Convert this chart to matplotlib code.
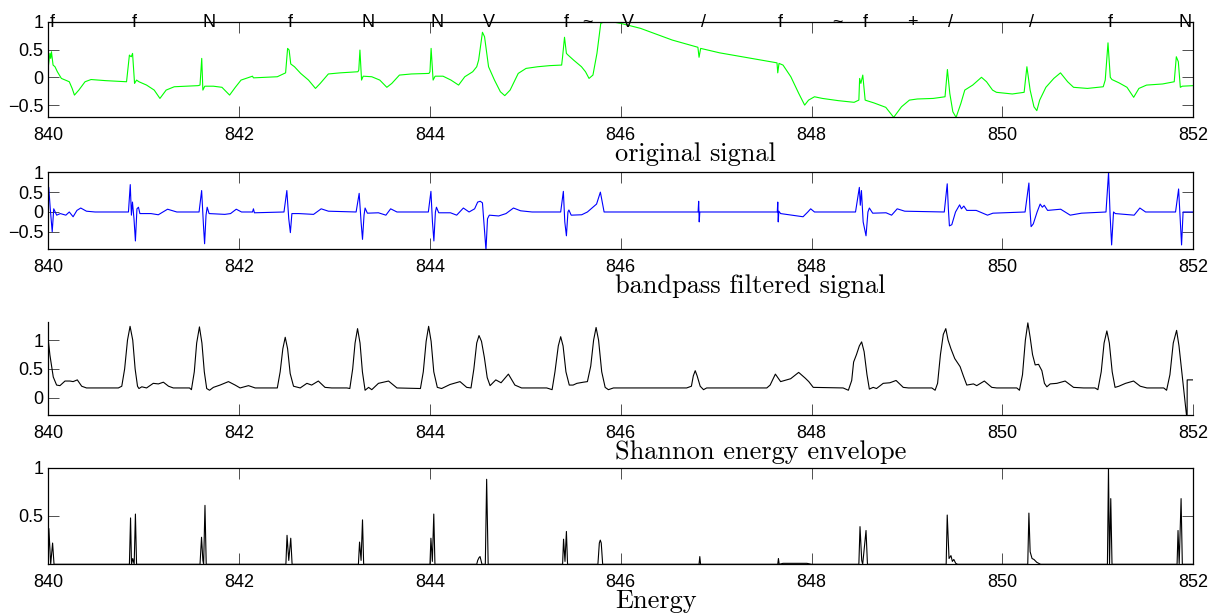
import matplotlib
matplotlib.use('Agg')
import matplotlib.pyplot as plt

plt.rcParams['font.family'] = ['Liberation Sans', 'DejaVu Sans']

# beat annotations along the top of the raw trace
beat_t = [840.012, 840.875, 841.617, 842.508, 843.28, 844.01, 844.56, 845.40, 845.60,
          846.012, 846.84, 847.645, 848.217, 848.54, 849.005, 849.43, 850.28, 851.106, 851.844]
beat_lab = ['f', 'f', 'N', 'f', 'N', 'N', 'V', 'f', '~',
            'V', '/', 'f', '~', 'f', '+', '/', '/', 'f', 'N']

# original signal
raw_t = [840.0, 840.017, 840.025, 840.033, 840.05, 840.07, 840.095, 840.137, 840.22, 840.25,
         840.274, 840.32, 840.385, 840.448, 840.6, 840.82, 840.85, 840.86, 840.87, 840.883,
         840.904, 840.925, 840.95, 841.03, 841.11, 841.17, 841.235, 841.32, 841.57, 841.59,
         841.608, 841.62, 841.64, 841.73, 841.82, 841.90, 841.96, 842.02, 842.14, 842.15,
         842.40, 842.487, 842.508, 842.524, 842.541, 842.58, 842.645, 842.727, 842.80, 842.85,
         842.935, 843.06, 843.245, 843.254, 843.266, 843.283, 843.30, 843.39, 843.474, 843.548,
         843.6, 843.68, 843.805, 843.99, 844.0, 844.012, 844.033, 844.054, 844.137, 844.22,
         844.30, 844.365, 844.448, 844.49, 844.51, 844.55, 844.572, 844.614, 844.676, 844.738,
         844.784, 844.84, 844.925, 845.007, 845.13, 845.256, 845.38, 845.39, 845.41, 845.43,
         845.447, 845.505, 845.588, 845.63, 845.667, 845.708, 845.75, 845.79, 845.83, 845.9,
         846.0, 846.207, 846.539, 846.808, 846.82, 846.837, 847.036, 847.368, 847.637, 847.645,
         847.658, 847.70, 847.782, 847.865, 847.927, 847.968, 848.03, 848.113, 848.28, 848.445,
         848.495, 848.503, 848.516, 848.536, 848.561, 848.578, 848.652, 848.777, 848.86, 848.942,
         849.025, 849.108, 849.274, 849.398, 849.423, 849.448, 849.48, 849.514, 849.564, 849.605,
         849.688, 849.78, 849.833, 849.896, 849.937, 850.103, 850.227, 850.256, 850.29, 850.33,
         850.36, 850.39, 850.455, 850.538, 850.608, 850.683, 850.745, 850.89, 851.056, 851.077,
         851.106, 851.13, 851.147, 851.222, 851.305, 851.375, 851.43, 851.51, 851.678, 851.80,
         851.822, 851.843, 851.864, 851.885, 852.0]
raw_v = [0.19, 0.43, 0.34, 0.46, 0.22, 0.19, 0.10, -0.02, -0.08, -0.2,
         -0.32, -0.23, -0.08, -0.04, -0.06, -0.08, 0.40, 0.38, 0.37, 0.43,
         -0.11, -0.05, -0.08, -0.14, -0.23, -0.38, -0.23, -0.17, -0.15, -0.14,
         0.34, -0.23, -0.16, -0.16, -0.18, -0.32, -0.18, -0.05, 0.02, -0.01,
         0.01, 0.08, 0.52, 0.49, 0.24, 0.19, 0.07, -0.05, -0.2, -0.11,
         0.06, 0.08, 0.10, 0.13, 0.49, -0.05, 0.02, 0.01, -0.05, -0.18,
         -0.11, 0.04, 0.06, 0.07, 0.10, 0.52, -0.05, 0.02, 0.02, -0.05,
         -0.14, 0.01, 0.10, 0.19, 0.31, 0.81, 0.73, 0.19, -0.05, -0.26,
         -0.33, -0.23, 0.07, 0.16, 0.19, 0.21, 0.22, 0.37, 0.72, 0.43,
         0.40, 0.31, 0.19, 0.10, -0.02, 0.04, 0.43, 0.97, 1.0, 1.0,
         0.97, 0.88, 0.67, 0.54, 0.36, 0.52, 0.44, 0.34, 0.26, 0.08,
         0.25, 0.22, 0.01, -0.29, -0.5, -0.41, -0.35, -0.38, -0.42, -0.45,
         -0.41, -0.02, -0.11, 0.04, -0.41, -0.42, -0.46, -0.54, -0.72, -0.53,
         -0.41, -0.39, -0.38, -0.35, 0.14, -0.29, -0.62, -0.72, -0.47, -0.23,
         -0.14, 0.0, -0.08, -0.23, -0.27, -0.3, -0.27, 0.19, -0.23, -0.53,
         -0.6, -0.41, -0.18, -0.02, 0.08, -0.08, -0.18, -0.2, -0.17, -0.05,
         0.62, 0.0, -0.04, -0.1, -0.18, -0.36, -0.2, -0.14, -0.12, -0.08,
         0.37, 0.28, -0.18, -0.16, -0.15]

# bandpass filtered signal
bp_t = [840.0, 840.005, 840.02, 840.041, 840.057, 840.088, 840.126, 840.184, 840.22, 840.26,
        840.30, 840.34, 840.40, 840.49, 840.84, 840.859, 840.871, 840.882, 840.898, 840.913,
        840.929, 840.945, 840.96, 841.076, 841.153, 841.25, 841.347, 841.58, 841.607, 841.626,
        841.638, 841.653, 841.665, 841.685, 841.85, 841.91, 841.97, 842.025, 842.14, 842.15,
        842.16, 842.47, 842.50, 842.52, 842.537, 842.553, 842.626, 842.78, 842.86, 842.936,
        843.226, 843.258, 843.278, 843.293, 843.309, 843.32, 843.344, 843.46, 843.538, 843.588,
        843.654, 843.983, 844.01, 844.026, 844.041, 844.057, 844.068, 844.092, 844.215, 844.28,
        844.35, 844.41, 844.468, 844.50, 844.527, 844.55, 844.572, 844.587, 844.603, 844.622,
        844.72, 844.797, 844.875, 844.95, 845.07, 845.37, 845.398, 845.413, 845.43, 845.446,
        845.456, 845.48, 845.59, 845.65, 845.708, 845.746, 845.786, 845.805, 845.825, 845.96,
        846.81, 846.816, 846.822, 846.828, 847.64, 847.645, 847.65, 847.656, 847.675, 847.79,
        847.91, 847.96, 847.99, 848.03, 848.46, 848.50, 848.51, 848.522, 848.54, 848.57,
        848.59, 848.605, 848.64, 848.78, 848.838, 848.897, 848.976, 849.39, 849.421, 849.433,
        849.444, 849.469, 849.508, 849.551, 849.57, 849.595, 849.626, 849.725, 849.843, 849.90,
        850.237, 850.277, 850.288, 850.30, 850.323, 850.363, 850.395, 850.418, 850.438, 850.473,
        850.61, 850.71, 850.828, 851.085, 851.112, 851.128, 851.144, 851.164, 851.183, 851.38,
        851.44, 851.50, 851.814, 851.846, 851.86, 851.877, 851.893, 852.0]
bp_v = [0.1, 0.62, 0.1, -0.5, 0.08, -0.08, -0.04, -0.08, 0.0, -0.12,
        0.04, 0.1, 0.02, 0.0, 0.0, 0.69, -0.08, 0.25, -0.17, -0.73,
        0.08, 0.12, -0.04, -0.04, -0.07, 0.07, 0.0, 0.0, 0.54, -0.33,
        -0.8, -0.08, 0.12, -0.04, -0.06, -0.04, 0.07, 0.0, 0.0, 0.08,
        -0.02, 0.0, 0.54, -0.17, -0.52, -0.04, -0.04, -0.06, 0.08, 0.02,
        0.0, 0.47, -0.25, -0.69, -0.08, 0.1, -0.03, -0.02, -0.08, 0.08,
        0.0, 0.0, 0.52, -0.25, -0.73, 0.0, 0.12, -0.02, -0.02, -0.08,
        0.1, 0.0, 0.08, 0.25, 0.27, 0.23, -0.5, -0.96, -0.17, -0.08,
        -0.1, -0.04, 0.1, 0.03, 0.0, 0.0, 0.52, -0.25, -0.6, 0.0,
        0.05, -0.08, -0.07, 0.0, 0.12, 0.2, 0.5, 0.25, 0.0, 0.0,
        0.0, 0.27, -0.25, 0.0, 0.0, 0.25, -0.25, 0.02, -0.04, -0.08,
        -0.12, 0.0, 0.08, 0.0, 0.0, 0.62, 0.17, 0.54, -0.25, -0.6,
        0.0, 0.1, -0.03, -0.02, -0.08, 0.08, 0.02, 0.0, 0.71, 0.08,
        -0.35, -0.32, 0.0, 0.18, 0.08, 0.15, 0.04, 0.04, -0.08, -0.03,
        0.0, 0.73, 0.08, -0.37, -0.3, 0.0, 0.2, 0.12, 0.17, 0.04,
        0.07, -0.08, -0.03, 0.0, 1.0, -0.08, -0.83, 0.0, -0.04, -0.08,
        0.1, 0.0, 0.0, 0.58, -0.08, -0.83, 0.0, 0.0]

# Shannon energy envelope
env_t = [840.0, 840.017, 840.052, 840.087, 840.122, 840.175, 840.227, 840.26, 840.304, 840.35,
         840.40, 840.734, 840.77, 840.80, 840.83, 840.857, 840.885, 840.91, 840.935, 840.95,
         840.98, 841.03, 841.10, 841.154, 841.206, 841.26, 841.31, 841.48, 841.50, 841.53,
         841.555, 841.584, 841.61, 841.635, 841.66, 841.69, 841.73, 841.80, 841.888, 841.958,
         842.01, 842.098, 842.168, 842.36, 842.40, 842.43, 842.458, 842.483, 842.508, 842.535,
         842.57, 842.64, 842.71, 842.76, 842.83, 842.90, 842.97, 843.13, 843.16, 843.19,
         843.215, 843.241, 843.267, 843.292, 843.32, 843.357, 843.39, 843.46, 843.566, 843.654,
         843.90, 843.93, 843.96, 843.986, 844.012, 844.04, 844.077, 844.122, 844.21, 844.315,
         844.385, 844.43, 844.46, 844.49, 844.514, 844.54, 844.57, 844.60, 844.63, 844.69,
         844.745, 844.822, 844.89, 844.96, 845.224, 845.28, 845.31, 845.345, 845.37, 845.395,
         845.425, 845.46, 845.50, 845.54, 845.608, 845.65, 845.685, 845.715, 845.741, 845.767,
         845.80, 845.836, 845.87, 845.923, 846.69, 846.74, 846.76, 846.78, 846.80, 846.832,
         846.867, 846.90, 847.53, 847.565, 847.62, 847.675, 847.74, 847.78, 847.864, 847.933,
         847.97, 848.017, 848.33, 848.385, 848.42, 848.44, 848.47, 848.50, 848.524, 848.55,
         848.58, 848.605, 848.645, 848.68, 848.75, 848.82, 848.885, 848.96, 849.014, 849.26,
         849.294, 849.32, 849.35, 849.38, 849.406, 849.43, 849.46, 849.5, 849.556, 849.59,
         849.626, 849.696, 849.73, 849.81, 849.888, 849.94, 850.15, 850.178, 850.21, 850.24,
         850.266, 850.29, 850.315, 850.343, 850.378, 850.413, 850.44, 850.465, 850.5, 850.57,
         850.657, 850.745, 850.85, 850.97, 851.0, 851.035, 851.065, 851.094, 851.12, 851.15,
         851.18, 851.22, 851.29, 851.374, 851.444, 851.514, 851.69, 851.72, 851.755, 851.79,
         851.825, 851.85, 851.935, 851.936, 852.0]
env_v = [1.0, 0.74, 0.36, 0.22, 0.21, 0.29, 0.29, 0.28, 0.31, 0.2,
         0.17, 0.17, 0.2, 0.5, 1.0, 1.24, 1.0, 0.5, 0.2, 0.16,
         0.19, 0.17, 0.25, 0.24, 0.27, 0.2, 0.17, 0.17, 0.14, 0.45,
         0.95, 1.23, 0.95, 0.45, 0.16, 0.13, 0.18, 0.22, 0.28, 0.22,
         0.17, 0.21, 0.17, 0.17, 0.17, 0.45, 0.85, 1.05, 0.85, 0.42,
         0.2, 0.17, 0.25, 0.22, 0.29, 0.18, 0.17, 0.17, 0.16, 0.5,
         0.95, 1.2, 0.95, 0.45, 0.13, 0.18, 0.14, 0.25, 0.29, 0.17,
         0.16, 0.45, 0.98, 1.24, 0.98, 0.45, 0.18, 0.16, 0.23, 0.28,
         0.18, 0.17, 0.5, 0.95, 1.08, 0.98, 0.7, 0.35, 0.21, 0.31,
         0.26, 0.41, 0.22, 0.17, 0.17, 0.14, 0.45, 0.9, 1.06, 0.9,
         0.45, 0.22, 0.22, 0.25, 0.27, 0.28, 0.55, 1.0, 1.22, 1.0,
         0.45, 0.18, 0.14, 0.17, 0.17, 0.2, 0.38, 0.47, 0.38, 0.2,
         0.14, 0.17, 0.17, 0.22, 0.41, 0.28, 0.31, 0.33, 0.44, 0.34,
         0.28, 0.18, 0.17, 0.13, 0.3, 0.62, 0.75, 0.9, 0.97, 0.8,
         0.4, 0.15, 0.18, 0.16, 0.25, 0.26, 0.3, 0.18, 0.17, 0.17,
         0.13, 0.25, 0.75, 1.1, 1.2, 1.0, 0.85, 0.68, 0.54, 0.38,
         0.22, 0.24, 0.21, 0.29, 0.18, 0.17, 0.17, 0.13, 0.4, 1.0,
         1.3, 1.05, 0.75, 0.57, 0.58, 0.47, 0.25, 0.19, 0.24, 0.25,
         0.29, 0.18, 0.17, 0.17, 0.14, 0.45, 0.95, 1.16, 0.95, 0.45,
         0.18, 0.2, 0.25, 0.29, 0.2, 0.17, 0.17, 0.13, 0.4, 0.95,
         1.17, 0.9, -0.4, 0.31, 0.31]

# energy
en_t = [840.0, 840.006, 840.025, 840.045, 840.06, 840.85, 840.862, 840.872, 840.885, 840.9,
        840.913, 840.925, 841.59, 841.606, 841.62, 841.628, 841.642, 841.655, 842.49, 842.502,
        842.52, 842.541, 842.555, 843.25, 843.262, 843.278, 843.293, 843.305, 844.0, 844.01,
        844.025, 844.04, 844.052, 844.49, 844.50, 844.515, 844.525, 844.545, 844.58, 844.594,
        844.61, 845.39, 845.40, 845.415, 845.43, 845.442, 845.76, 845.775, 845.785, 845.795,
        845.81, 846.82, 846.828, 846.836, 847.645, 847.652, 847.66, 847.7, 847.95, 848.0,
        848.495, 848.507, 848.525, 848.535, 848.57, 848.585, 849.41, 849.421, 849.44, 849.46,
        849.475, 849.49, 849.51, 849.53, 850.265, 850.277, 850.29, 850.31, 850.33, 850.36,
        850.4, 851.10, 851.111, 851.122, 851.135, 851.148, 851.83, 851.84, 851.852, 851.872,
        851.885, 852.0]
en_v = [0.05, 0.37, 0.0, 0.22, 0.0, 0.0, 0.48, 0.0, 0.06, 0.0,
        0.52, 0.0, 0.0, 0.28, 0.04, 0.0, 0.61, 0.0, 0.0, 0.30,
        0.04, 0.27, 0.0, 0.0, 0.23, 0.04, 0.46, 0.0, 0.0, 0.27,
        0.03, 0.52, 0.0, 0.0, 0.04, 0.07, 0.08, 0.0, 0.0, 0.88,
        0.0, 0.0, 0.26, 0.03, 0.34, 0.0, 0.0, 0.22, 0.25, 0.22,
        0.0, 0.0, 0.08, 0.0, 0.0, 0.06, 0.0, 0.01, 0.01, 0.0,
        0.0, 0.39, 0.04, 0.0, 0.35, 0.0, 0.0, 0.51, 0.06, 0.09,
        0.03, 0.05, 0.01, 0.0, 0.0, 0.53, 0.13, 0.06, 0.05, 0.02,
        0.0, 0.0, 1.0, 0.0, 0.68, 0.0, 0.0, 0.35, 0.0, 0.68,
        0.0, 0.0]

x_ticks = [840, 842, 844, 846, 848, 850, 852]
x_ticklabels = ['840', '842', '844', '846', '848', '850', '852']
titles = ['original signal', 'bandpass filtered signal', 'Shannon energy envelope', 'Energy']

W, H = 1222, 615
fig = plt.figure(figsize=(W / 100, H / 100), dpi=100)

# axes boxes in pixels: (top, bottom)
boxes = [(21.7, 117.0), (172.3, 249.3), (322.3, 415.3), (467.7, 564.3)]
left_px, right_px = 48.3, 1193.3
axs = []
for top, bot in boxes:
    ax = fig.add_axes([left_px / W, 1 - bot / H, (right_px - left_px) / W, (bot - top) / H])
    axs.append(ax)

series = [(raw_t, raw_v, (0, 1, 0)), (bp_t, bp_v, (0, 0, 1)),
          (env_t, env_v, 'k'), (en_t, en_v, 'k')]
ylims = [(-0.714, 1.0), (-0.94, 1.0), (-0.305, 1.31), (0, 1.0)]
yticks = [[-0.5, 0, 0.5, 1], [-0.5, 0, 0.5, 1], [0, 0.5, 1], [0.5, 1]]
yticklabels = [['\u22120.5', '0', '0.5', '1'], ['\u22120.5', '0', '0.5', '1'],
               ['0', '0.5', '1'], ['0.5', '1']]

for i, ax in enumerate(axs):
    t, v, c = series[i]
    ax.plot(t, v, color=c, lw=0.8)
    ax.set_xlim(840, 852)
    ax.set_ylim(*ylims[i])
    ax.set_xticks(x_ticks)
    ax.set_xticklabels(x_ticklabels)
    ax.set_yticks(yticks[i])
    ax.set_yticklabels(yticklabels[i])
    boxed = i != 2
    ax.tick_params(direction='in', length=7.9, width=0.6, labelsize=13,
                   top=boxed, right=boxed, color='#333333')
    ax.tick_params(axis='x', pad=7)
    ax.tick_params(axis='y', pad=3.6)
    for s in ax.spines.values():
        s.set_linewidth(0.9)
    if not boxed:
        ax.spines['top'].set_visible(False)
        ax.spines['right'].set_visible(False)
    h_px = boxes[i][1] - boxes[i][0]
    ax.set_xlabel(titles[i], fontfamily='cmr10', fontsize=19, ha='left', va='baseline')
    ax.xaxis.set_label_coords(0.495, -44.0 / h_px)

for t, lab in zip(beat_t, beat_lab):
    axs[0].annotate(lab, xy=(t, 1), xycoords=('data', 'axes fraction'),
                    xytext=(0, -3.7), textcoords='offset points',
                    ha='left', va='baseline', fontsize=13, annotation_clip=False)

fig.savefig('out.png', dpi=100)
